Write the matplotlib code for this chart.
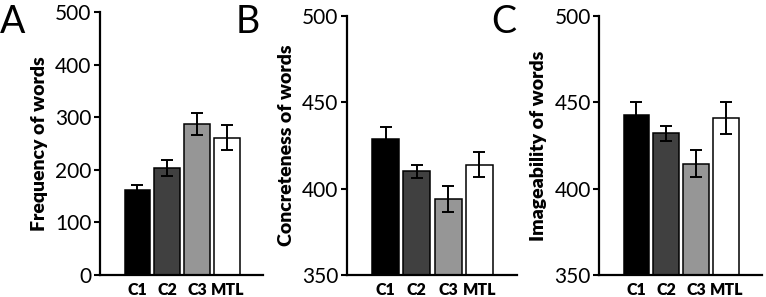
import matplotlib.pyplot as plt
import numpy as np

plt.rcParams['font.family'] = ['Lato', 'DejaVu Sans']

groups = ['C1', 'C2', 'C3', 'MTL']
bar_colors = ['#000000', '#404040', '#969696', '#ffffff']

freq = [162, 204, 287, 261]
freq_err = [9, 15, 20, 24]

concrete = [428.5, 410, 394, 414]
concrete_err = [7, 4, 7.5, 7]

imageab = [442.5, 432, 414.5, 441]
imageab_err = [7.5, 4.3, 8, 9.5]

panels = [
    ('A', freq, freq_err, 'Frequency of words', (0, 500), [0, 100, 200, 300, 400, 500]),
    ('B', concrete, concrete_err, 'Concreteness of words', (350, 500), [350, 400, 450, 500]),
    ('C', imageab, imageab_err, 'Imageability of words', (350, 500), [350, 400, 450, 500]),
]

# axes boxes in figure fractions
boxes = [
    [0.1305, 0.074, 0.213, 0.886],
    [0.4526, 0.074, 0.222, 0.872],
    [0.782, 0.074, 0.213, 0.872],
]
letter_x = [0.0, 0.308, 0.641]

fig = plt.figure(figsize=(7.66, 2.97), dpi=100)

for (letter, vals, errs, ylabel, ylim, yticks), box, lx in zip(panels, boxes, letter_x):
    ax = fig.add_axes(box)
    x = np.arange(len(groups))
    ax.bar(x, np.array(vals) - ylim[0], bottom=ylim[0], width=0.86,
           color=bar_colors, edgecolor='black', linewidth=1.1, zorder=2)
    ax.errorbar(x, vals, yerr=errs, fmt='none', ecolor='black',
                elinewidth=1.4, capsize=4, capthick=1.4, zorder=3)
    ax.set_ylim(*ylim)
    ax.set_xlim(-1.25, 4.2)
    ax.set_yticks(yticks)
    ax.set_xticks(x)
    ax.set_xticklabels(groups, fontweight='heavy', fontsize=11.5)
    ax.tick_params(axis='x', length=0, pad=5)
    ax.tick_params(axis='y', direction='out', length=4, width=1.5, labelsize=15, pad=2)
    for s in ['top', 'right']:
        ax.spines[s].set_visible(False)
    for s in ['left', 'bottom']:
        ax.spines[s].set_linewidth(1.6)
    ax.set_ylabel(ylabel, fontweight='heavy', fontsize=14, labelpad=5)
    fig.text(lx, 0.985, letter, fontsize=27, va='top', ha='left')

fig.savefig('out.png', dpi=100)
